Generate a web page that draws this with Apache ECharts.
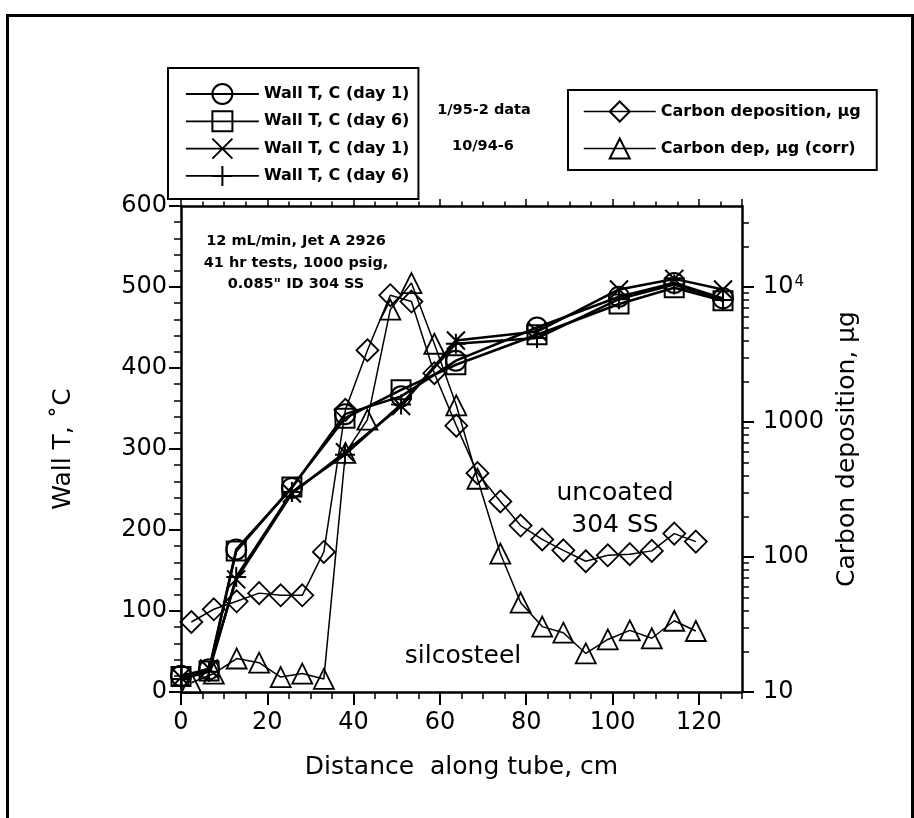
<!DOCTYPE html>
<html>
<head>
<meta charset="utf-8">
<script src="https://cdn.jsdelivr.net/npm/echarts@6/dist/echarts.min.js"></script>
<style>
  html, body { margin: 0; padding: 0; background: #fff; }
  #chart { width: 914px; height: 818px; }
</style>
</head>
<body>
<div id="chart"></div>
<script>
// 壁温测点位置 (cm)
var wallX = [0, 6.5, 12.8, 25.7, 38, 51, 63.7, 82.5, 101.5, 114.3, 125.6];
// 1/95-2 data
var wallDay1 = [20, 28, 176, 252, 343, 365, 409, 450, 488, 505, 486];
var wallDay6 = [19, 26, 174, 253, 338, 373, 404, 441, 479, 499, 483];
// 10/94-6
var wallDay1b = [18, 29, 139, 245, 296, 353, 434, 445, 497, 510, 497];
var wallDay6b = [16, 25, 142, 247, 293, 355, 430, 437, 485, 503, 484];

// 积碳测点位置 (cm)
var carbonX = [2.4, 7.6, 12.9, 18.1, 23.1, 28.1, 33.1, 38.1, 43.2, 48.5, 53.4, 58.7,
  63.8, 68.7, 74, 78.7, 83.7, 88.6, 93.8, 98.9, 104, 109.1, 114.3, 119.3];
var carbonDep = [33, 41, 47, 54, 52, 52, 109, 1230, 3400, 8700, 7800, 2300,
  940, 418, 258, 171, 135, 112, 93, 103, 105, 111, 149, 130];
var carbonCorr = [11.7, 13.7, 17.7, 16.5, 12.9, 13.7, 12.5, 590, 1040, 6800, 10700, 3800,
  1330, 380, 106, 46, 30.5, 27.5, 19.3, 24.5, 28.6, 25, 33.7, 28.3];

// 对数轴刻度
var logMajorTicks = [10, 100, 1000, 10000];
var logMinorTicks = [20, 30, 40, 50, 60, 70, 80, 90, 200, 300, 400, 500, 600, 700, 800, 900,
  2000, 3000, 4000, 5000, 6000, 7000, 8000, 9000, 20000, 30000];

var FONT = 'DejaVu Sans';
var myChart = echarts.init(document.getElementById('chart'));

function pairs(xs, ys) {
  return xs.map(function (x, i) { return [x, ys[i]]; });
}

var symX = 'path://M0 0L10 10M10 0L0 10';
var symPlus = 'path://M5 0L5 10M0 5L10 5';

function wallSeries(name, ys, symbol, size) {
  return {
    name: name, type: 'line', xAxisIndex: 0, yAxisIndex: 0,
    data: pairs(wallX, ys),
    symbol: symbol, symbolSize: size,
    lineStyle: { color: '#000', width: 2.5 },
    itemStyle: { color: 'rgba(0,0,0,0)', borderColor: '#000', borderWidth: 2 },
    emphasis: { disabled: true },
    z: 3
  };
}

function carbonSeries(name, ys, symbol, size) {
  return {
    name: name, type: 'line', xAxisIndex: 0, yAxisIndex: 1,
    data: pairs(carbonX, ys),
    symbol: symbol, symbolSize: size,
    lineStyle: { color: '#000', width: 1.5 },
    itemStyle: { color: 'rgba(0,0,0,0)', borderColor: '#000', borderWidth: 1.8 },
    emphasis: { disabled: true },
    z: 2
  };
}

var legendText = { fontFamily: FONT, fontSize: 16, fontWeight: 'bold', color: '#000' };
var blackLine = { color: '#000', width: 2.5 };

var option = {
  backgroundColor: '#fff',
  animation: false,
  grid: {
    left: 181, right: 172, top: 206, bottom: 126,
    containLabel: false, outerBoundsMode: 'none'
  },
  legend: [
    {
      orient: 'vertical', left: 168, top: 68,
      data: ['Wall T, C (day 1)', 'Wall T, C (day 6)', 'Wall T, C (day 1) ', 'Wall T, C (day 6) '],
      formatter: function (name) { return name.trim(); },
      itemWidth: 73, itemHeight: 25, itemGap: 5.3,
      padding: [15, 9, 12, 17],
      borderColor: '#000', borderWidth: 2,
      lineStyle: { width: 1.8 },
      textStyle: legendText,
      selectedMode: false
    },
    {
      orient: 'vertical', left: 568, top: 90,
      data: ['Carbon deposition, µg', 'Carbon dep, µg (corr)'],
      itemWidth: 72, itemHeight: 25, itemGap: 15,
      padding: [10.5, 16, 10.5, 15],
      borderColor: '#000', borderWidth: 2,
      lineStyle: { width: 1.5 },
      textStyle: legendText,
      selectedMode: false
    }
  ],
  xAxis: [
    {
      type: 'value', position: 'bottom', min: 0, max: 130, interval: 20,
      name: 'Distance  along tube, cm', nameLocation: 'middle', nameGap: 63,
      nameTextStyle: { fontFamily: FONT, fontSize: 25, color: '#000' },
      axisLine: { onZero: false, lineStyle: blackLine },
      axisTick: { inside: false, length: 13, lineStyle: { color: '#000', width: 2 } },
      axisLabel: { fontFamily: FONT, fontSize: 24, color: '#000', margin: 19, showMaxLabel: false },
      splitLine: { show: false }
    },
    {
      // 底部次刻度
      type: 'value', position: 'bottom', min: 0, max: 130, interval: 5,
      axisLine: { show: false, onZero: false },
      axisTick: { inside: false, length: 7, lineStyle: { color: '#000', width: 1.5 } },
      axisLabel: { show: false },
      splitLine: { show: false }
    },
    {
      // 顶部边框
      type: 'value', position: 'top', min: 0, max: 130, interval: 20,
      axisLine: { onZero: false, lineStyle: blackLine },
      axisTick: { inside: false, length: 7, lineStyle: { color: '#000', width: 1.5 } },
      axisLabel: { show: false },
      splitLine: { show: false }
    },
    {
      type: 'value', position: 'top', min: 0, max: 130, interval: 5,
      axisLine: { show: false, onZero: false },
      axisTick: { inside: false, length: 4.5, lineStyle: { color: '#000', width: 1.5 } },
      axisLabel: { show: false },
      splitLine: { show: false }
    }
  ],
  yAxis: [
    {
      type: 'value', position: 'left', min: 0, max: 600, interval: 100,
      name: 'Wall T, ˚C', nameLocation: 'middle', nameGap: 105,
      nameTextStyle: { fontFamily: FONT, fontSize: 25, color: '#000' },
      axisLine: { onZero: false, lineStyle: blackLine },
      axisTick: { inside: false, length: 12, lineStyle: { color: '#000', width: 2 } },
      minorTick: { show: true, splitNumber: 5, length: 7, lineStyle: { color: '#000', width: 1.5 } },
      axisLabel: { fontFamily: FONT, fontSize: 24, color: '#000', margin: 14 },
      splitLine: { show: false },
      minorSplitLine: { show: false }
    },
    {
      type: 'log', logBase: 10, position: 'right', min: 10, max: Math.pow(10, 4.6),
      name: 'Carbon deposition, µg', nameLocation: 'middle', nameGap: 88,
      nameTextStyle: { fontFamily: FONT, fontSize: 25, color: '#000' },
      axisLine: { onZero: false, lineStyle: blackLine },
      axisTick: { inside: false, length: 12, customValues: logMajorTicks, lineStyle: { color: '#000', width: 2 } },
      axisLabel: {
        fontFamily: FONT, fontSize: 24, color: '#000', margin: 21,
        formatter: function (v) {
          var e = Math.log10(v);
          if (Math.abs(e - Math.round(e)) > 1e-6) return '';
          if (Math.round(e) === 4) return '10{sup|4}';
          return String(Math.round(v));
        },
        rich: { sup: { fontFamily: FONT, fontSize: 15, color: '#000', verticalAlign: 'top', padding: [0, 0, 10, 1] } }
      },
      splitLine: { show: false }
    },
    {
      // 对数轴次刻度
      type: 'log', logBase: 10, position: 'right', min: 10, max: Math.pow(10, 4.6),
      axisLine: { show: false, onZero: false },
      axisTick: { inside: false, length: 7, customValues: logMinorTicks, lineStyle: { color: '#000', width: 1.5 } },
      axisLabel: { show: false },
      splitLine: { show: false }
    }
  ],
  graphic: [
    {
      type: 'rect', left: 5, top: 13, silent: true,
      shape: { width: 905, height: 830 },
      style: { fill: 'none', stroke: '#000', lineWidth: 3 }
    },
    {
      type: 'text', x: 296, y: 263, silent: true,
      style: {
        text: '12 mL/min, Jet A 2926\n41 hr tests, 1000 psig,\n0.085" ID 304 SS',
        fontFamily: FONT, fontSize: 14.5, fontWeight: 'bold', lineHeight: 21.5,
        fill: '#000', align: 'center', verticalAlign: 'middle'
      }
    },
    {
      type: 'text', x: 484, y: 110, silent: true,
      style: { text: '1/95-2 data', fontFamily: FONT, fontSize: 14.5, fontWeight: 'bold', fill: '#000', align: 'center', verticalAlign: 'middle' }
    },
    {
      type: 'text', x: 483, y: 146, silent: true,
      style: { text: '10/94-6', fontFamily: FONT, fontSize: 14.5, fontWeight: 'bold', fill: '#000', align: 'center', verticalAlign: 'middle' }
    },
    {
      type: 'text', x: 615, y: 509, silent: true,
      style: { text: 'uncoated\n304 SS', fontFamily: FONT, fontSize: 25, lineHeight: 32, fill: '#000', align: 'center', verticalAlign: 'middle' }
    },
    {
      type: 'text', x: 463, y: 656, silent: true,
      style: { text: 'silcosteel', fontFamily: FONT, fontSize: 25, fill: '#000', align: 'center', verticalAlign: 'middle' }
    }
  ],
  series: [
    wallSeries('Wall T, C (day 1)', wallDay1, 'circle', 20),
    wallSeries('Wall T, C (day 6)', wallDay6, 'rect', 19),
    wallSeries('Wall T, C (day 1) ', wallDay1b, symX, 18),
    wallSeries('Wall T, C (day 6) ', wallDay6b, symPlus, 20),
    carbonSeries('Carbon deposition, µg', carbonDep, 'diamond', 22),
    carbonSeries('Carbon dep, µg (corr)', carbonCorr, 'triangle', 20)
  ]
};

myChart.setOption(option);
window.addEventListener('resize', function () {
  myChart.resize();
});
</script>
</body>
</html>
